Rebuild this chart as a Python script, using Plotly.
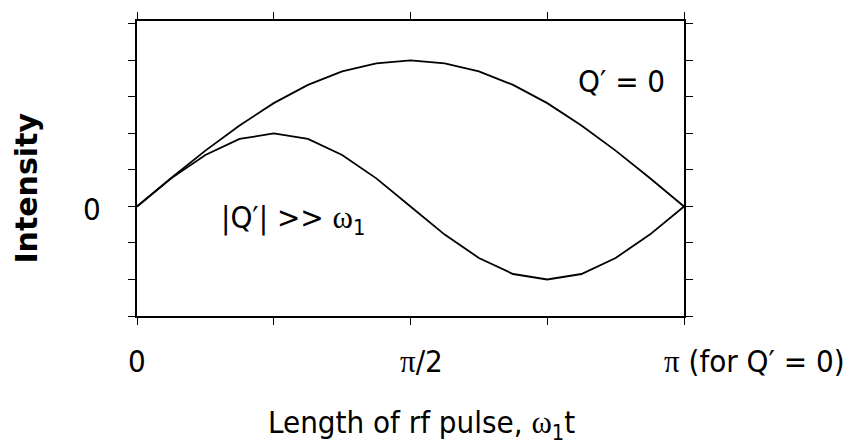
import plotly.graph_objects as go
import math

# Pulse length in units of pi/16 (0 .. pi)
pulse_steps = list(range(17))
pulse_len = [k * math.pi / 16 for k in pulse_steps]

# Nutation intensity, Q' = 0 (non-selective excitation)
intensity_q0 = [0.00, 0.78, 1.53, 2.22, 2.83, 3.33, 3.70, 3.92, 4.00,
                3.92, 3.70, 3.33, 2.83, 2.22, 1.53, 0.78, 0.00]

# Nutation intensity, |Q'| >> omega_1 (selective excitation of central transition)
intensity_qbig = [0.00, 0.77, 1.41, 1.85, 2.00, 1.85, 1.41, 0.77, 0.00,
                  -0.77, -1.41, -1.85, -2.00, -1.85, -1.41, -0.77, 0.00]

x_tick_vals = [0, math.pi / 4, math.pi / 2, 3 * math.pi / 4, math.pi]
x_label_vals = [0, math.pi / 2, math.pi]
x_label_text = ["0", "π/2", "π (for Q′ = 0)"]
y_tick_vals = [-3, -2, -1, 0, 1, 2, 3, 4, 5]

SANS = "DejaVu Sans Condensed, DejaVu Sans, sans-serif"
SERIF_SPAN = '<span style="font-family:Liberation Serif, DejaVu Serif, serif">{}</span>'
FS = 31

fig = go.Figure()
for ys in (intensity_q0, intensity_qbig):
    fig.add_trace(go.Scatter(x=pulse_len, y=ys, mode="lines",
                             line=dict(color="black", width=1.8),
                             showlegend=False, hoverinfo="skip"))

axis_common = dict(showline=True, linecolor="black", linewidth=1.5, mirror="ticks",
                   ticks="outside", ticklen=7, tickwidth=1.3, tickcolor="black",
                   showgrid=False, zeroline=False, showticklabels=False)

fig.update_xaxes(range=[0, math.pi], tickvals=x_tick_vals, **axis_common)
fig.update_yaxes(range=[-3, 5.08], tickvals=y_tick_vals, **axis_common)

annotations = []
label_fmt = {
    "0": "0",
    "π/2": SERIF_SPAN.format("π") + "/2",
    "π (for Q′ = 0)": SERIF_SPAN.format("π") + " (for Q′ = 0)",
}
for xv, txt in zip(x_label_vals, x_label_text):
    if txt.startswith("π ("):
        annotations.append(dict(x=xv, y=-0.153, xref="x", yref="paper", text=label_fmt[txt],
                                xanchor="left", yanchor="middle", xshift=-22, showarrow=False))
    elif txt == "π/2":
        annotations.append(dict(x=xv, y=-0.153, xref="x", yref="paper", text=label_fmt[txt],
                                xanchor="center", yanchor="middle", xshift=11, showarrow=False))
    else:
        annotations.append(dict(x=xv, y=-0.153, xref="x", yref="paper", text=label_fmt[txt],
                                xanchor="center", yanchor="middle", showarrow=False))

# y-axis zero label
annotations.append(dict(x=-0.082, y=0, xref="paper", yref="y", text="0",
                        xanchor="center", yanchor="middle", yshift=-3, showarrow=False))

# axis titles
annotations.append(dict(x=0.804, y=-0.368, xref="paper", yref="paper",
                        text="Length of rf pulse, " + SERIF_SPAN.format("ω") + "<sub>1</sub>t",
                        xanchor="right", yanchor="middle", showarrow=False))
annotations.append(dict(x=-0.201, y=0.432, xref="paper", yref="paper", text="<b>Intensity</b>",
                        textangle=-90, xanchor="center", yanchor="middle", showarrow=False,
                        font=dict(family="DejaVu Sans, sans-serif", size=30, color="black")))

# curve labels
annotations.append(dict(x=0.886, y=0.797, xref="paper", yref="paper", text="Q′ = 0",
                        xanchor="center", yanchor="middle", showarrow=False))
annotations.append(dict(x=0.285, y=0.326, xref="paper", yref="paper",
                        text="|Q′| >> " + SERIF_SPAN.format("ω") + "<sub>1</sub>",
                        xanchor="center", yanchor="middle", showarrow=False))

fig.update_layout(
    width=855, height=444,
    margin=dict(l=137, r=171, t=15, b=128),
    paper_bgcolor="white", plot_bgcolor="white",
    font=dict(family=SANS, size=FS, color="black"),
    annotations=annotations,
)

fig.write_html("out.html")
